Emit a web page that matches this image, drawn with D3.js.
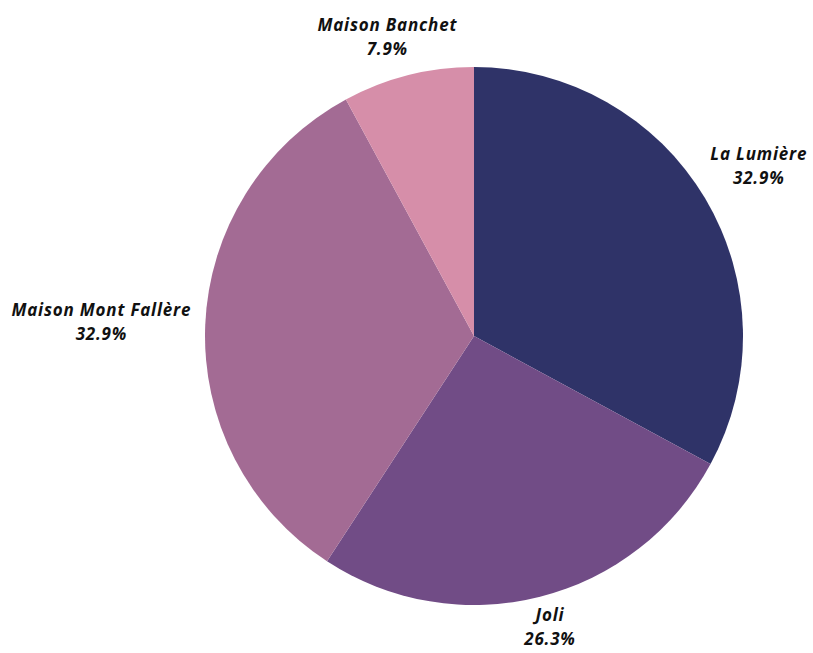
<!DOCTYPE html>
<html>
<head>
<meta charset="utf-8">
<script src="https://cdn.jsdelivr.net/npm/d3@7"></script>
<style>
  body { margin: 0; background: #fff; }
  text { font-family: "Open Sans", Lato, sans-serif; font-weight: 700; font-style: italic; fill: #111; letter-spacing: 0.8px; }
</style>
</head>
<body>
<div id="chart"></div>
<script>
var width = 813, height = 653
var cx = 474, cy = 336, radius = 269

var names = ['La Lumière', 'Joli', 'Maison Mont Fallère', 'Maison Banchet']
var shares = [32.9, 26.3, 32.9, 7.9]
var colors = ['#2f3368', '#714c86', '#a36b94', '#d68ea9']

var data = names.map((n, i) => ({ name: n, value: shares[i], color: colors[i] }))

var svg = d3.select('#chart').append('svg')
  .attr('width', width)
  .attr('height', height)

var g = svg.append('g')
  .attr('transform', `translate(${cx},${cy})`)

var pie = d3.pie()
  .sort(null)
  .value(d => d.value)

var arc = d3.arc()
  .innerRadius(0)
  .outerRadius(radius)

var arcs = pie(data)

g.selectAll('path')
  .data(arcs)
  .enter()
  .append('path')
  .attr('d', arc)
  .attr('fill', d => d.data.color)

// labels sit just outside the rim, pushed out by half their box
var labelR = radius + 14
var lineH = 24

var labels = g.selectAll('.label')
  .data(arcs)
  .enter()
  .append('text')
  .attr('class', 'label')
  .attr('text-anchor', 'middle')
  .style('font-size', '17px')

labels.append('tspan')
  .attr('x', 0)
  .attr('dy', 0)
  .text(d => d.data.name)

labels.append('tspan')
  .attr('x', 0)
  .attr('dy', lineH)
  .text(d => d3.format('.1f')(d.data.value) + '%')

labels.each(function(d) {
  var a = (d.startAngle + d.endAngle) / 2
  var box = this.getBBox()
  var s = Math.sin(a), c = Math.cos(a)
  var x = labelR * s + s * box.width / 2
  // upper-right labels ride a bit higher
  var y = -labelR * c - c * box.height / 2 - 2 - 26 * Math.max(0, s * c)
  // keep the box inside the svg
  y = Math.min(y, height - cy - box.height / 2 - 3)
  // box center -> text baseline offset
  var dy = y - (box.y + box.height / 2)
  d3.select(this).attr('transform', `translate(${x},${dy})`)
})
</script>
</body>
</html>
